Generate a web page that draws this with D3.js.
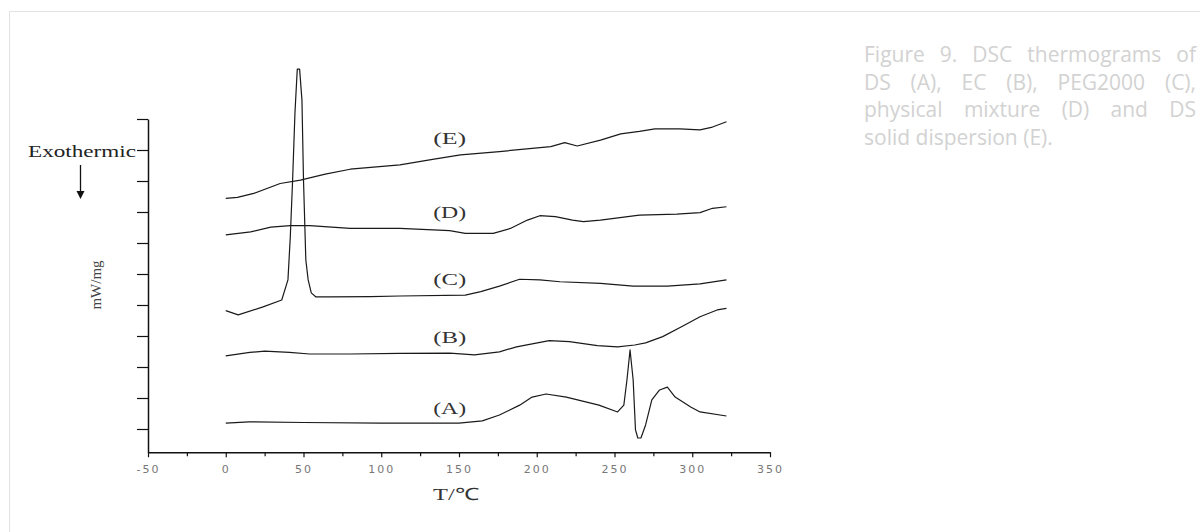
<!DOCTYPE html>
<html>
<head>
<meta charset="utf-8">
<script src="https://cdn.jsdelivr.net/npm/d3@7"></script>
<style>
  body { margin: 0; background: #fff; width: 1200px; height: 532px; overflow: hidden; position: relative; }
  #chart { position: absolute; left: 0; top: 0; }
  #caption {
    position: absolute; left: 864px; top: 41px; width: 332px;
    font-family: "Open Sans", sans-serif; font-size: 21px; line-height: 27.5px;
    color: #d2d2d2;
  }
  #caption span { display: block; text-align: justify; text-align-last: justify; white-space: nowrap; }
  #caption span.last { text-align-last: left; }
</style>
</head>
<body>
<div id="chart"></div>
<div id="caption">
  <span>Figure 9. DSC thermograms of</span>
  <span>DS (A), EC (B), PEG2000 (C),</span>
  <span>physical mixture (D) and DS</span>
  <span class="last">solid dispersion (E).</span>
</div>
<script>
// DSC traces, temperature (°C) and stacked heat flow offset (mW/mg, arbitrary baseline)
const tA = [0, 15, 50, 100, 150, 165, 176, 189, 197, 206, 219, 240, 252, 256, 258, 260, 262, 263.5, 265, 267, 270, 274, 279, 284, 289, 299, 305, 322];
const yA = [0.19, 0.23, 0.21, 0.19, 0.19, 0.26, 0.45, 0.77, 1.03, 1.13, 1.03, 0.77, 0.55, 0.77, 1.58, 2.55, 1.58, -0.03, -0.29, -0.29, 0.13, 0.94, 1.26, 1.35, 1.03, 0.71, 0.55, 0.42];

const tB = [0, 15.5, 25, 41, 54, 80, 112, 144, 160, 176, 187, 208, 221, 239, 252, 263, 270, 281, 294, 305, 316, 322];
const yB = [2.36, 2.47, 2.51, 2.47, 2.42, 2.42, 2.44, 2.45, 2.39, 2.49, 2.65, 2.85, 2.82, 2.69, 2.65, 2.71, 2.78, 2.98, 3.32, 3.62, 3.84, 3.89];

const tC = [0, 8, 24, 36, 40, 41.5, 43, 44.5, 46, 47.5, 49, 50, 51.5, 53, 55, 58, 67, 93, 112, 154, 164, 176, 189, 202, 215, 241, 262, 284, 305, 322];
const yC = [3.82, 3.68, 3.94, 4.16, 4.81, 6.19, 8.03, 10.19, 11.61, 11.61, 10.61, 8.03, 5.45, 4.81, 4.39, 4.26, 4.26, 4.27, 4.29, 4.32, 4.43, 4.61, 4.83, 4.81, 4.75, 4.70, 4.61, 4.61, 4.68, 4.81];

const tD = [0, 16, 29, 41.5, 54, 80, 112, 144, 154, 172, 183, 194, 202, 212, 223, 230, 241, 266, 290, 305, 313, 322];
const yD = [6.26, 6.36, 6.51, 6.56, 6.56, 6.47, 6.47, 6.40, 6.31, 6.31, 6.47, 6.74, 6.88, 6.85, 6.74, 6.69, 6.74, 6.90, 6.93, 6.98, 7.12, 7.17];

const tE = [0, 7.5, 18, 35, 48, 64, 80, 112, 133, 151, 176, 209, 218, 226, 241, 254, 266, 276, 292, 305, 313, 322];
const yE = [7.44, 7.47, 7.60, 7.92, 8.03, 8.22, 8.38, 8.52, 8.70, 8.84, 8.95, 9.11, 9.24, 9.13, 9.32, 9.52, 9.60, 9.68, 9.68, 9.65, 9.74, 9.91];

const curveNames = ["(A)", "(B)", "(C)", "(D)", "(E)"];
const labelT = [144, 144, 144, 144, 144];
const labelY = [0.68, 2.97, 4.84, 7.0, 9.39];

const xTicks = [-50, 0, 50, 100, 150, 200, 250, 300, 350];
const xMinorTicks = [-25, 25, 75, 125, 175, 225, 275, 325];
const yTicks = [0, 1, 2, 3, 4, 5, 6, 7, 8, 9, 10];

const series = [[tA, yA], [tB, yB], [tC, yC], [tD, yD], [tE, yE]];

const W = 1200, H = 532;
const svg = d3.select("#chart").append("svg")
    .attr("width", W)
    .attr("height", H);

// card outline
svg.append("rect")
    .attr("x", 9.5).attr("y", 11.5)
    .attr("width", 1300).attr("height", 700)
    .attr("fill", "none")
    .attr("stroke", "#e2e2e2");

const x = d3.scaleLinear().domain([-50, 350]).range([148, 770]);
const y = d3.scaleLinear().domain([-0.75, 10]).range([452.25, 119]);

const serif = '"Liberation Serif", "Times New Roman", serif';

// x axis
const xAxis = svg.append("g")
    .attr("transform", `translate(0,${y(-0.75)})`)
    .call(d3.axisBottom(x).tickValues(xTicks).tickSize(5).tickSizeOuter(0).tickPadding(8)
        .tickFormat(d => String(d)));
xAxis.select(".domain").attr("stroke", "#111").attr("stroke-width", 1.5);
xAxis.selectAll(".tick line").attr("stroke", "#111").attr("stroke-width", 1.2);
xAxis.selectAll("text")
    .attr("font-family", '"DejaVu Sans", sans-serif')
    .attr("font-size", 11)
    .attr("letter-spacing", 2)
    .attr("fill", "#777");

svg.append("g")
    .attr("transform", `translate(0,${y(-0.75)})`)
    .call(d3.axisBottom(x).tickValues(xMinorTicks).tickSize(4).tickSizeOuter(0).tickFormat(""))
    .call(g => g.select(".domain").remove())
    .selectAll(".tick line").attr("stroke", "#111").attr("stroke-width", 1.2);

// y axis
const yAxis = svg.append("g")
    .attr("transform", `translate(${x(-50)},0)`)
    .call(d3.axisLeft(y).tickValues(yTicks).tickSize(11).tickSizeOuter(0).tickFormat(""));
yAxis.select(".domain").attr("stroke", "#111").attr("stroke-width", 1.5);
yAxis.selectAll(".tick line").attr("stroke", "#111").attr("stroke-width", 1.2);

// traces
const line = d3.line()
    .x(d => x(d[0]))
    .y(d => y(d[1]))
    .curve(d3.curveLinear);

svg.selectAll(".trace")
    .data(series)
    .enter().append("path")
    .attr("class", "trace")
    .attr("d", s => line(d3.zip(s[0], s[1])))
    .attr("fill", "none")
    .attr("stroke", "#1a1a1a")
    .attr("stroke-width", 1.2)
    .attr("stroke-linejoin", "round");

// curve labels
svg.selectAll(".clabel")
    .data(curveNames)
    .enter().append("text")
    .attr("class", "clabel")
    .attr("x", (d, i) => x(labelT[i]))
    .attr("y", (d, i) => y(labelY[i]))
    .attr("dy", "0.35em")
    .attr("text-anchor", "middle")
    .attr("font-family", serif)
    .attr("font-size", 16)
    .attr("textLength", 33)
    .attr("lengthAdjust", "spacingAndGlyphs")
    .attr("fill", "#333")
    .text(d => d);

// axis titles
svg.append("text")
    .attr("x", 28).attr("y", 157)
    .attr("font-family", serif)
    .attr("font-size", 17)
    .attr("textLength", 108)
    .attr("lengthAdjust", "spacingAndGlyphs")
    .attr("fill", "#222")
    .text("Exothermic");

svg.append("line")
    .attr("x1", 80.5).attr("x2", 80.5)
    .attr("y1", 165).attr("y2", 192)
    .attr("stroke", "#111").attr("stroke-width", 1.3);
svg.append("path")
    .attr("d", "M76.5,191L84.5,191L80.5,199Z")
    .attr("fill", "#111");

svg.append("text")
    .attr("transform", "translate(101,285) rotate(-90)")
    .attr("text-anchor", "middle")
    .attr("font-family", serif)
    .attr("font-size", 15)
    .attr("fill", "#444")
    .text("mW/mg");

svg.append("text")
    .attr("x", 433).attr("y", 500)
    .attr("font-family", serif)
    .attr("font-size", 17)
    .attr("textLength", 46)
    .attr("lengthAdjust", "spacingAndGlyphs")
    .attr("fill", "#333")
    .text("T/℃");
</script>
</body>
</html>
